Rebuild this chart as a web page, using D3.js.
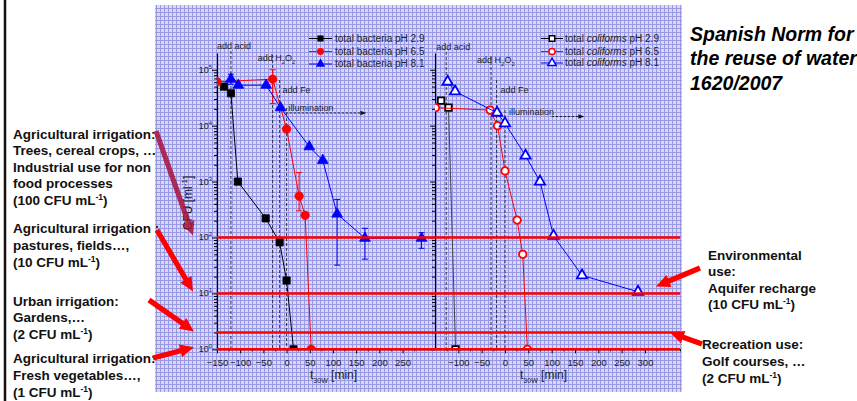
<!DOCTYPE html>
<html>
<head>
<meta charset="utf-8">
<script src="https://cdn.jsdelivr.net/npm/d3@7"></script>
<style>
  body { margin: 0; background: #fff; }
  svg { display: block; font-family: "Liberation Sans", Arial, sans-serif; }
</style>
</head>
<body>
<svg id="chart" width="857" height="401"></svg>
<script>
// total bacteria (left panel), times in min, values in CFU/ml
const bactT29 = [-135, -120, -105, -45, -15, 0, 15];
const bactV29 = [5.0e4, 3.8e4, 1.0e3, 220, 82, 17, 1];
const bactT65 = [-150, -30, 0, 27, 40, 53];
const bactV65 = [6.1e4, 6.8e4, 8.7e3, 550, 250, 1];
const bactT81 = [-120, -104, -44, -13, 49, 78, 109, 169, 291];
const bactV81 = [6.8e4, 5.3e4, 5.3e4, 2.1e4, 4.2e3, 2.4e3, 263, 97, 97];
const bactErrT65 = [-30, 27];
const bactErrLo65 = [2.5e4, 300];
const bactErrHi65 = [1.0e5, 1450];
const bactErrT81 = [-120, 109, 169, 291];
const bactErrLo81 = [5.5e4, 32, 41, 64];
const bactErrHi81 = [8.3e4, 480, 146, 122];

// total coliforms (right panel)
const colT29 = [-137, -121, -106];
const colV29 = [2.8e4, 2.1e4, 1];
const colT65 = [-149, -32, -16, 0, 26, 38, 48];
const colV65 = [2.1e4, 1.9e4, 1.0e4, 1.55e3, 205, 50, 1];
const colT81 = [-123, -107, -17, 0, 44, 75, 104, 165, 285];
const colV81 = [6.1e4, 4.1e4, 1.7e4, 1.1e4, 2.9e3, 1.0e3, 107, 21, 10.7];

// Spanish norm limits (CFU/ml)
const normLimits = [100, 10, 2, 1];

// event markers (min)
const eventsLeft = [-120, -30, -15, 0];
const eventsRight = [-126, -30, -18, 0];

const legendLeft = ["total bacteria pH 2.9", "total bacteria pH 6.5", "total bacteria pH 8.1"];
const legendRight = ["pH 2.9", "pH 6.5", "pH 8.1"];

const xTicksLeft = d3.range(-150, 251, 50);
const xTicksRight = d3.range(-100, 301, 50);

const svg = d3.select("#chart");

// blue graph-paper background
const pat = svg.append("defs").append("pattern")
  .attr("id", "grid").attr("width", 4).attr("height", 4)
  .attr("patternUnits", "userSpaceOnUse");
pat.append("rect").attr("width", 4).attr("height", 4).attr("fill", "#d8d8f6");
pat.append("path").attr("d", "M0.5,0V4M0,0.5H4").attr("stroke", "#9898e4").attr("stroke-width", 1);
svg.append("rect").attr("x", 155).attr("y", 5).attr("width", 527).attr("height", 387)
  .attr("fill", "url(#grid)");

svg.append("line").attr("x1", 5).attr("x2", 5).attr("y1", 0).attr("y2", 401)
  .attr("stroke", "#111").attr("stroke-width", 2.5);

const yTop = 53, yBot = 349.3;
const y = d3.scaleLog().domain([1, Math.pow(10, 5.3)]).range([yBot, yTop]);
const xL = d3.scaleLinear().domain([-150, 320]).range([217, 435]);
const xR = d3.scaleLinear().domain([-150, 375]).range([435, 680]);

const defs = svg.select("defs");
defs.append("clipPath").attr("id", "clipL").append("rect")
  .attr("x", 217).attr("y", 30).attr("width", 218).attr("height", yBot - 30);
defs.append("clipPath").attr("id", "clipR").append("rect")
  .attr("x", 435).attr("y", 30).attr("width", 245).attr("height", yBot - 30);

const logTicks = [];
for (let k = 0; k <= 5; k++) for (let m = 1; m <= 9; m++) {
  const v = m * Math.pow(10, k);
  if (v <= y.domain()[1]) logTicks.push(v);
}
const isMajor = d => Math.abs(Math.log10(d) - Math.round(Math.log10(d))) < 1e-9;

function yAxis(xpos, withLabels) {
  const g = svg.append("g").attr("transform", `translate(${xpos},0)`)
    .call(d3.axisLeft(y).tickValues(logTicks).tickFormat("").tickSizeOuter(0));
  g.selectAll(".tick line").attr("x2", d => isMajor(d) ? -5 : -3);
  g.select(".domain").attr("stroke-width", 1.2);
  if (withLabels) {
    d3.range(0, 6).forEach(k => {
      const t = svg.append("text").attr("x", xpos - 5).attr("y", y(Math.pow(10, k)) + 3)
        .attr("text-anchor", "end").attr("font-size", 9).attr("fill", "#222");
      t.append("tspan").text("10");
      t.append("tspan").attr("font-size", 6).attr("dy", -4).text(k);
    });
  }
}

function xAxis(x, major, minor, titleX) {
  const g = svg.append("g").attr("transform", `translate(0,${yBot})`)
    .call(d3.axisBottom(x).tickValues(major).tickSize(4).tickPadding(6).tickSizeOuter(0));
  g.selectAll("text").attr("font-size", 9.5).attr("fill", "#222").attr("font-family", "Liberation Sans, Arial, sans-serif");
  svg.append("g").attr("transform", `translate(0,${yBot})`)
    .call(d3.axisBottom(x).tickValues(minor).tickSize(2).tickFormat(""))
    .select(".domain").remove();
  const t = svg.append("text").attr("x", titleX).attr("y", yBot + 30)
    .attr("font-size", 12).attr("fill", "#222");
  t.append("tspan").text("t");
  t.append("tspan").attr("font-size", 7).attr("dy", 4).text("30W");
  t.append("tspan").attr("dy", -4).text(" [min]");
}

yAxis(217, true);
yAxis(435, false);
xAxis(xL, xTicksLeft, d3.range(-125, 320, 50), 310);
xAxis(xR, xTicksRight, d3.range(-125, 376, 50), 520);

// y label
const yl = svg.append("text").attr("transform", "translate(192,203) rotate(-90)")
  .attr("text-anchor", "middle").attr("font-size", 12).attr("fill", "#111");
yl.append("tspan").text("CFU [ml");
yl.append("tspan").attr("font-size", 8).attr("dy", -5).text("-1");
yl.append("tspan").attr("dy", 5).text("]");

// event lines and labels
function events(x, times, tops) {
  times.forEach((t, i) => {
    svg.append("line").attr("x1", x(t)).attr("x2", x(t)).attr("y1", tops[i]).attr("y2", yBot)
      .attr("stroke", "#111").attr("stroke-width", 0.8).attr("stroke-dasharray", "3,2");
  });
}
events(xL, eventsLeft, [51, 55, 80, 108]);
events(xR, eventsRight, [52, 57, 80, 110]);

function label(x, yy, parts) {
  const t = svg.append("text").attr("x", x).attr("y", yy).attr("font-size", 9).attr("fill", "#222");
  parts.forEach(p => {
    if (p.sub) t.append("tspan").attr("font-size", 6).attr("dy", 3).text(p.sub);
    else t.append("tspan").attr("dy", p.up || 0).text(p.s);
  });
}
const h2o2 = [{ s: "add H" }, { sub: "2" }, { s: "O", up: -3 }, { sub: "2" }];
label(xL(-150), 49, [{ s: "add acid" }]);
label(xL(-30) - 15, 61, h2o2);
label(xL(-15) + 3, 92.5, [{ s: "add Fe" }]);
label(xL(0) + 2, 110.5, [{ s: "illumination" }]);
label(xR(-126) - 10, 50, [{ s: "add acid" }]);
label(xR(-30) - 14, 63, h2o2);
label(xR(-18) + 4, 92.5, [{ s: "add Fe" }]);
label(xR(0) + 4, 115, [{ s: "illumination" }]);

function dashArrow(x1, x2, yy) {
  svg.append("line").attr("x1", x1).attr("x2", x2 - 5).attr("y1", yy).attr("y2", yy)
    .attr("stroke", "#111").attr("stroke-width", 0.9).attr("stroke-dasharray", "2.5,1.5");
  svg.append("path").attr("d", `M${x2},${yy}L${x2 - 6},${yy - 2.2}L${x2 - 6},${yy + 2.2}Z`).attr("fill", "#111");
}
dashArrow(xL(-2), xL(172), 113);
dashArrow(xR(100), xR(170), 116.5);

// series
function series(x, clip, ts, vs, color, shape, open, size, lineColor) {
  const pts = ts.map((t, i) => [x(t), y(vs[i])]);
  const g = svg.append("g").attr("clip-path", `url(#${clip})`);
  g.append("path").attr("d", d3.line()(pts)).attr("fill", "none")
    .attr("stroke", lineColor || color).attr("stroke-width", 1);
  g.selectAll(null).data(pts).join("path")
    .attr("transform", d => `translate(${d[0]},${d[1]})`)
    .attr("d", d3.symbol(shape, size))
    .attr("fill", open ? "#fff" : color)
    .attr("stroke", color).attr("stroke-width", open ? 1.8 : 0.8);
}
function errBars(x, ts, lo, hi, color) {
  ts.forEach((t, i) => {
    const cx = x(t);
    svg.append("path")
      .attr("d", `M${cx},${y(lo[i])}V${y(hi[i])}M${cx - 3},${y(lo[i])}H${cx + 3}M${cx - 3},${y(hi[i])}H${cx + 3}`)
      .attr("stroke", color).attr("stroke-width", 1).attr("fill", "none");
  });
}

errBars(xL, bactErrT65, bactErrLo65, bactErrHi65, "#f00");
errBars(xL, bactErrT81, bactErrLo81, bactErrHi81, "#00f");
series(xL, "clipL", bactT29, bactV29, "#000", d3.symbolSquare, false, 52);
series(xL, "clipL", bactT65, bactV65, "#f00", d3.symbolCircle, false, 56);
series(xL, "clipL", bactT81, bactV81, "#00f", d3.symbolTriangle, false, 50);
series(xR, "clipR", colT29, colV29, "#000", d3.symbolSquare, true, 42, "#444");
series(xR, "clipR", colT65, colV65, "#f00", d3.symbolCircle, true, 44);
series(xR, "clipR", colT81, colV81, "#00f", d3.symbolTriangle, true, 46);

// norm lines
normLimits.forEach(v => {
  svg.append("line").attr("x1", 217).attr("x2", 680).attr("y1", y(v)).attr("y2", y(v))
    .attr("stroke", "#f00").attr("stroke-width", 2.5);
});

// legends
const legColors = ["#000", "#f00", "#00f"];
const legShapes = [d3.symbolSquare, d3.symbolCircle, d3.symbolTriangle];
const legRows = [38.5, 51.5, 64];
legendLeft.forEach((s, i) => {
  const ly = legRows[i];
  svg.append("line").attr("x1", 309).attr("x2", 332).attr("y1", ly).attr("y2", ly).attr("stroke", legColors[i]);
  svg.append("path").attr("transform", `translate(320.5,${ly})`).attr("d", d3.symbol(legShapes[i], 38))
    .attr("fill", legColors[i]);
  svg.append("text").attr("x", 335).attr("y", ly + 3.3).attr("font-size", 10).attr("fill", "#222").text(s);
});
legendRight.forEach((s, i) => {
  const ly = legRows[i] - (i === 2 ? 1 : 0);
  svg.append("line").attr("x1", 541).attr("x2", 563).attr("y1", ly).attr("y2", ly).attr("stroke", legColors[i]);
  svg.append("path").attr("transform", `translate(552,${ly})`).attr("d", d3.symbol(legShapes[i], 30))
    .attr("fill", "#fff").attr("stroke", legColors[i]).attr("stroke-width", 1.5);
  const t = svg.append("text").attr("x", 565).attr("y", ly + 3.3).attr("font-size", 10).attr("fill", "#222");
  t.append("tspan").text("total ");
  t.append("tspan").attr("font-style", "italic").text("coliforms");
  t.append("tspan").text(" " + s);
});

// norm title
["Spanish Norm for", "the reuse of water", "1620/2007"].forEach((s, i) => {
  svg.append("text").attr("x", 690).attr("y", 40.5 + i * 24.8).attr("font-size", 19.5)
    .attr("font-style", "italic").attr("font-weight", "bold").attr("fill", "#000").text(s);
});

// annotation blocks
function block(x, y0, lines, lh) {
  lines.forEach((s, i) => {
    const t = svg.append("text").attr("x", x).attr("y", y0 + i * lh)
      .attr("font-size", 13.5).attr("font-weight", "bold").attr("fill", "#111");
    const m = s.match(/^(.*mL)-1(\))$/);
    if (m) {
      t.append("tspan").text(m[1]);
      t.append("tspan").attr("font-size", 8.5).attr("dy", -5).text("-1");
      t.append("tspan").attr("dy", 5).text(m[2]);
    } else t.text(s);
  });
}
block(13, 138.5, ["Agricultural irrigation:", "Trees, cereal crops, \u2026", "Industrial use for non", "food  processes", "(100 CFU mL-1)"], 16.5);
block(13, 233, ["Agricultural irrigation :", "pastures, fields\u2026,", "(10 CFU mL-1)"], 16.8);
block(13, 306, ["Urban irrigation:", "Gardens,\u2026", "(2 CFU mL-1)"], 16.3);
block(13, 362.5, ["Agricultural irrigation:", "Fresh vegetables\u2026,", "(1 CFU mL-1)"], 17);
block(708, 259.5, ["Environmental", "use:", "Aquifer recharge", "(10 CFU mL-1)"], 16.5);
block(702, 348.5, ["Recreation use:", "Golf courses, \u2026", "(2 CFU mL-1)"], 17);

// red pointer arrows
function arrow(x1, y1, x2, y2, color, opacity) {
  const a = Math.atan2(y2 - y1, x2 - x1), hl = 14, hw = 6.5, w = 2.6;
  const c = Math.cos(a), s = Math.sin(a);
  const bx = x2 - hl * c, by = y2 - hl * s;
  const px = -s, py = c;
  const p = [
    [x1 + px * w, y1 + py * w], [bx + px * w, by + py * w], [bx + px * hw, by + py * hw],
    [x2, y2], [bx - px * hw, by - py * hw], [bx - px * w, by - py * w], [x1 - px * w, y1 - py * w]
  ];
  svg.append("path").attr("d", "M" + p.map(d => d.join(",")).join("L") + "Z")
    .attr("fill", color).attr("opacity", opacity || 1);
}
arrow(156, 131, 193, y(100) - 2, "#a8103a", 0.85);
arrow(157, 230, 193, y(10) - 2, "#f00");
arrow(149, 300, 194, y(2) - 1, "#f00");
arrow(153, 358, 194, y(1) - 2, "#f00");
arrow(700, 268, 656, y(10) - 7, "#f00");
arrow(702, 344, 670, y(2), "#f00");
</script>
</body>
</html>
